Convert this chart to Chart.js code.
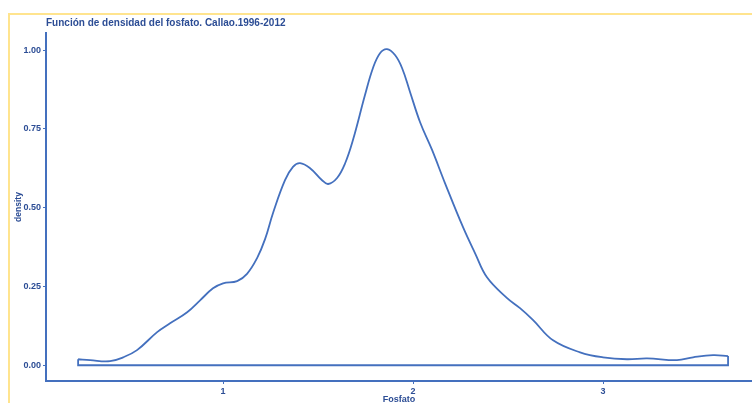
<!DOCTYPE html>
<html>
<head>
<meta charset="utf-8">
<script src="https://cdn.jsdelivr.net/npm/chart.js@4.4.1/dist/chart.umd.min.js"></script>
<style>
html,body{margin:0;padding:0;width:752px;height:403px;overflow:hidden;background:#fff;}
#wrap{width:752px;height:410px;position:relative;}
</style>
</head>
<body>
<div id="wrap"><canvas id="c" width="752" height="410"></canvas></div>
<script>
// Data (Fosfato, density)
const fosfato = [0.237, 0.30, 0.405, 0.474, 0.547, 0.653, 0.721, 0.811, 0.879, 0.947, 1.0, 1.074, 1.126, 1.179, 1.221, 1.263, 1.326, 1.368, 1.405, 1.458, 1.521, 1.553, 1.60, 1.642, 1.684, 1.747, 1.789, 1.826, 1.863, 1.905, 1.942, 1.984, 2.037, 2.10, 2.168, 2.263, 2.326, 2.389, 2.495, 2.563, 2.632, 2.737, 2.879, 3.0, 3.126, 3.232, 3.389, 3.474, 3.579, 3.658];
const density = [0.019, 0.016, 0.013, 0.025, 0.048, 0.105, 0.133, 0.168, 0.206, 0.244, 0.26, 0.267, 0.29, 0.34, 0.40, 0.483, 0.587, 0.629, 0.641, 0.625, 0.587, 0.575, 0.594, 0.64, 0.715, 0.857, 0.943, 0.99, 1.003, 0.984, 0.943, 0.867, 0.771, 0.683, 0.578, 0.438, 0.356, 0.279, 0.213, 0.181, 0.143, 0.079, 0.041, 0.025, 0.019, 0.022, 0.016, 0.025, 0.032, 0.029];
const xTicks = [1, 2, 3];
const yTicks = [0, 0.25, 0.5, 0.75, 1];
const titleText = 'Función de densidad del fosfato. Callao.1996-2012';
const xTitle = 'Fosfato';
const yTitle = 'density';

const BLUE = '#4470BE';
const TEXT = '#2C4D95';
const FONT = "'Liberation Sans', Arial, sans-serif";

const curve = fosfato.map((x, i) => ({x: x, y: density[i]}));
const n = fosfato.length - 1;
const closing = [
  {x: fosfato[0], y: density[0]},
  {x: fosfato[0], y: 0},
  {x: fosfato[n], y: 0},
  {x: fosfato[n], y: density[n]}
];

const framePlugin = {
  id: 'frame',
  beforeDraw(chart) {
    const ctx = chart.ctx;
    ctx.save();
    ctx.fillStyle = '#FFE48E';
    ctx.fillRect(8, 13, 752 - 8, 2);
    ctx.fillRect(8, 13, 2, 410);
    ctx.restore();
  },
  afterDraw(chart) {
    const ctx = chart.ctx;
    ctx.save();
    ctx.fillStyle = TEXT;
    ctx.font = "bold 10px " + FONT;
    ctx.textBaseline = 'middle';
    ctx.textAlign = 'left';
    ctx.fillText(titleText, 46, 23);
    ctx.restore();
  }
};

new Chart(document.getElementById('c'), {
  type: 'scatter',
  data: {
    datasets: [
      {data: curve, showLine: true, borderColor: BLUE, borderWidth: 1.8, pointRadius: 0, tension: 0.4, fill: false},
      {data: closing, showLine: true, borderColor: BLUE, borderWidth: 1.8, pointRadius: 0, tension: 0, fill: false}
    ]
  },
  options: {
    responsive: false,
    animation: false,
    events: [],
    layout: {padding: {top: 33, left: 10, right: 0, bottom: 0}},
    plugins: {legend: {display: false}, tooltip: {enabled: false}, title: {display: false}},
    scales: {
      x: {
        type: 'linear',
        min: 0.068, max: 3.784,
        afterBuildTicks(s) { s.ticks = xTicks.map(v => ({value: v})); },
        afterFit(s) { s.height = 29; },
        ticks: {color: TEXT, font: {family: FONT, size: 9, weight: 'bold'}, padding: 2, callback: v => String(v), maxRotation: 0},
        grid: {drawOnChartArea: false, drawTicks: true, tickLength: 3, color: BLUE, lineWidth: 1},
        border: {display: true, color: BLUE, width: 2},
        title: {display: true, text: xTitle, color: TEXT, font: {family: FONT, size: 9, weight: 'bold'}, padding: {top: 0, bottom: 4.6}}
      },
      y: {
        type: 'linear',
        min: -0.05, max: 1.054,
        afterBuildTicks(s) { s.ticks = yTicks.map(v => ({value: v})); },
        afterFit(s) { s.width = 36; },
        ticks: {color: TEXT, font: {family: FONT, size: 9, weight: 'bold'}, padding: 2, callback: v => Number(v).toFixed(2)},
        grid: {drawOnChartArea: false, drawTicks: true, tickLength: 3, color: BLUE, lineWidth: 1},
        border: {display: true, color: BLUE, width: 2},
        title: {display: true, text: yTitle, color: TEXT, font: {family: FONT, size: 8.5, weight: 'bold'}, padding: {top: 4, bottom: 0}}
      }
    }
  },
  plugins: [framePlugin]
});
</script>
</body>
</html>
